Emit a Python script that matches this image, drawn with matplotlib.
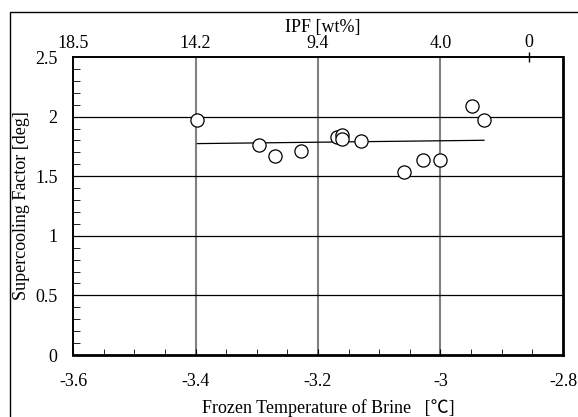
import numpy as np
import matplotlib
matplotlib.use("Agg")
import matplotlib.pyplot as plt
from matplotlib.patches import Rectangle
from matplotlib.ticker import MultipleLocator

plt.rcParams['font.family'] = ['Liberation Serif', 'Noto Sans CJK JP', 'DejaVu Sans']

# frozen temperature of brine [C] and supercooling factor [deg]
temp = [-3.397, -3.296, -3.270, -3.228, -3.169, -3.160, -3.160,
        -3.130, -3.059, -3.029, -3.000, -2.949, -2.929]
scf = [1.968, 1.761, 1.672, 1.709, 1.830, 1.847, 1.810,
       1.793, 1.537, 1.638, 1.638, 2.086, 1.968]

# top axis: IPF [wt%] labels at temperature positions
ipf_pos = [-3.6, -3.4, -3.2, -3.0]
ipf_labels = ['18.5', '14.2', '9.4', '4.0']
ipf_zero_pos = -2.855
ipf_zero_label = '0'

x_ticks = [-3.6, -3.4, -3.2, -3.0, -2.8]
x_ticklabels = ['-3.6', '-3.4', '-3.2', '-3', '-2.8']
y_ticks = [0, 0.5, 1, 1.5, 2, 2.5]
y_ticklabels = ['0', '0.5', '1', '1.5', '2', '2.5']

FS = 13

fig = plt.figure(figsize=(5.78, 4.17), dpi=100)
ax = fig.add_axes([73 / 578, 62 / 417, 490 / 578, 298 / 417])

# outer frame
fig.patches.append(Rectangle((10 / 578, -0.05), 1.2, 1 - 12 / 417 + 0.05,
                             transform=fig.transFigure, fill=False,
                             edgecolor='black', linewidth=1.0))

ax.set_xlim(-3.6, -2.8)
ax.set_ylim(0, 2.5)

# grid lines
for g in [-3.4, -3.2, -3.0]:
    ax.axvline(g, color='#808080', linewidth=1.5, zorder=1)
for g in [0.5, 1, 1.5, 2]:
    ax.axhline(g, color='black', linewidth=0.9, zorder=1)

ax.plot(temp, scf, linestyle='none', marker='o', markersize=9.5,
        markerfacecolor='white', markeredgecolor='black',
        markeredgewidth=0.9, zorder=3)

# linear trend
k, b = np.polyfit(temp, scf, 1)
xf = np.array([min(temp), max(temp)])
ax.plot(xf, k * xf + b, color='black', linewidth=0.9, zorder=2)

ax.set_xticks(x_ticks)
ax.set_xticklabels(x_ticklabels)
ax.set_yticks(y_ticks)
ax.set_yticklabels(y_ticklabels)
ax.xaxis.set_minor_locator(MultipleLocator(0.05))
ax.yaxis.set_minor_locator(MultipleLocator(0.1))
ax.tick_params(axis='both', which='both', direction='in', labelsize=FS,
               top=False, right=False)
ax.tick_params(axis='x', which='major', length=4, pad=13)
ax.tick_params(axis='x', which='minor', length=4)
ax.tick_params(axis='y', which='major', length=0, pad=11)
ax.tick_params(axis='y', which='minor', length=5)

ax.spines['left'].set_linewidth(1.4)
ax.spines['top'].set_linewidth(1.4)
ax.spines['bottom'].set_linewidth(2.0)
ax.spines['right'].set_linewidth(2.0)

ax.set_xlabel('Frozen Temperature of Brine   [℃]', fontsize=FS, labelpad=0)
ax.xaxis.set_label_coords(0.522, -0.148)
ax.set_ylabel('Supercooling Factor [deg]', fontsize=FS)
ax.yaxis.set_label_coords(-0.088, 0.5)

# top IPF axis
top = ax.twiny()
top.set_xlim(ax.get_xlim())
top.set_xticks(ipf_pos)
top.set_xticklabels(ipf_labels)
top.set_xticks([ipf_zero_pos], minor=True)
top.set_xticklabels([ipf_zero_label], minor=True)
top.tick_params(axis='x', which='major', length=0, pad=3.5, labelsize=FS)
top.tick_params(axis='x', which='minor', direction='inout', length=7,
                width=1.0, pad=0.5, labelsize=FS)
for s in top.spines.values():
    s.set_visible(False)
top.set_xlabel('IPF [wt%]', fontsize=FS, labelpad=0)
top.xaxis.set_label_coords(0.51, 1.085)

fig.savefig('out.png', dpi=100)
